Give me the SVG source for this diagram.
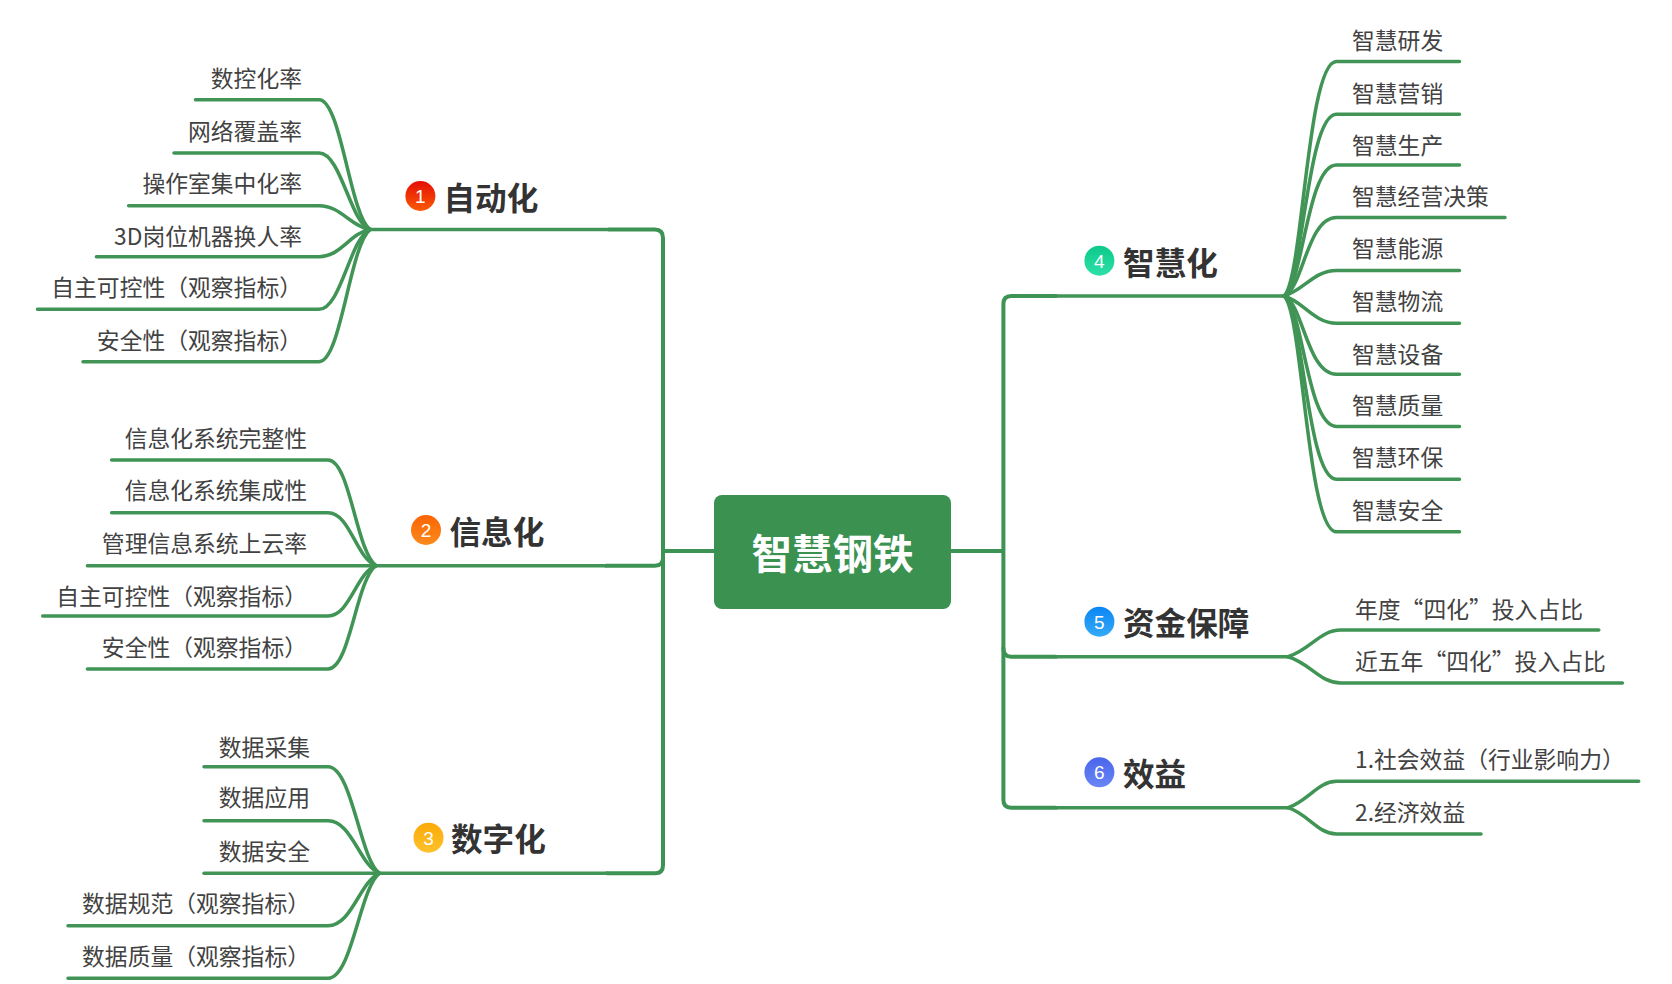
<svg xmlns="http://www.w3.org/2000/svg" width="1672" height="984" viewBox="0 0 1672 984">
<style>
text{font-family:"Noto Sans CJK SC","Noto Sans",sans-serif}
.l{font-size:22.8px;fill:#424242}
.e{text-anchor:end}
.b{font-size:31.6px;font-weight:700;fill:#333}
.n{font-size:19px;fill:#fff;text-anchor:middle;font-family:"Liberation Sans",sans-serif}
.c{fill:none;stroke:#409455;stroke-width:3.5;stroke-linecap:round}
.t{fill:none;stroke:#3d9353;stroke-width:4;stroke-linecap:round}
</style>
<defs>
<linearGradient id="g1" x1="0" y1="0" x2="0" y2="1"><stop offset="0" stop-color="#e40f05"/><stop offset="1" stop-color="#fb5a06"/></linearGradient>
<linearGradient id="g2" x1="0" y1="0" x2="0" y2="1"><stop offset="0" stop-color="#fb6404"/><stop offset="1" stop-color="#fc8a1c"/></linearGradient>
<linearGradient id="g3" x1="0" y1="0" x2="0" y2="1"><stop offset="0" stop-color="#fbaa06"/><stop offset="1" stop-color="#fdc22c"/></linearGradient>
<linearGradient id="g4" x1="0" y1="0" x2="0" y2="1"><stop offset="0" stop-color="#0cc98a"/><stop offset="1" stop-color="#2ee0a8"/></linearGradient>
<linearGradient id="g5" x1="0" y1="0" x2="0" y2="1"><stop offset="0" stop-color="#0a86f2"/><stop offset="1" stop-color="#35aaf8"/></linearGradient>
<linearGradient id="g6" x1="0" y1="0" x2="0" y2="1"><stop offset="0" stop-color="#4a66ea"/><stop offset="1" stop-color="#6a86f6"/></linearGradient>
</defs>
<rect width="1672" height="984" fill="#fff"/>
<g id="connectors">
<path class="t" d="M714,551H663M951,551H1003"/>
<path class="t" d="M609,229.5H655Q663,229.5 663,238V865Q663,873.3 655,873.3H607"/>
<path class="t" d="M606,565.7H655Q663,565.7 663,558"/>
<path class="t" d="M1056,296H1011Q1003.4,296 1003.4,304V800Q1003.4,807.7 1011,807.7H1056"/>
<path class="t" d="M1003.4,648Q1003.4,656.7 1011,656.7H1056"/>
<path class="c" d="M609,229.5H370"/>
<path class="c" d="M195.5,99.7H319C341,99.7 350,215 370,229.5"/>
<path class="c" d="M174,153H319C341,153 350,222 370,229.5"/>
<path class="c" d="M128.6,205.7H319C341,205.7 350,226 370,229.5"/>
<path class="c" d="M96.4,256.7H319C341,256.7 350,233 370,229.5"/>
<path class="c" d="M37.5,309.3H319C341,309.3 350,238 370,229.5"/>
<path class="c" d="M83,361.7H319C341,361.7 350,245 370,229.5"/>
<path class="c" d="M606,565.7H376"/>
<path class="c" d="M111.6,460H328C350,460 356,551 376,565.7"/>
<path class="c" d="M111.6,512.7H328C350,512.7 356,558 376,565.7"/>
<path class="c" d="M87.4,565.7H376"/>
<path class="c" d="M42.7,616H328C350,616 356,573 376,565.7"/>
<path class="c" d="M87.4,669H328C350,669 356,580 376,565.7"/>
<path class="c" d="M607,873.3H379.5"/>
<path class="c" d="M204,766.7H328C352,766.7 360,860 379.5,873.3"/>
<path class="c" d="M204,820.7H328C352,820.7 360,866 379.5,873.3"/>
<path class="c" d="M204,873.3H379.5"/>
<path class="c" d="M68,925.7H328C352,925.7 360,881 379.5,873.3"/>
<path class="c" d="M68,978.3H328C352,978.3 360,887 379.5,873.3"/>
<path class="c" d="M1056,296H1284"/>
<path class="c" d="M1459.5,61.4H1336.5C1307,61.4 1303,280 1284,296"/>
<path class="c" d="M1459.5,114.3H1336.5C1307,114.3 1303,283 1284,296"/>
<path class="c" d="M1459.5,165H1336.5C1307,165 1303,286 1284,296"/>
<path class="c" d="M1505,217.5H1336.5C1307,217.5 1303,289 1284,296"/>
<path class="c" d="M1459.5,270.4H1336.5C1314,270.4 1303,291 1284,296"/>
<path class="c" d="M1459.5,323.2H1336.5C1314,323.2 1303,301 1284,296"/>
<path class="c" d="M1459.5,374.3H1336.5C1307,374.3 1303,303 1284,296"/>
<path class="c" d="M1459.5,426.4H1336.5C1307,426.4 1303,306 1284,296"/>
<path class="c" d="M1459.5,479.3H1336.5C1307,479.3 1303,309 1284,296"/>
<path class="c" d="M1459.5,531.8H1336.5C1307,531.8 1303,312 1284,296"/>
<path class="c" d="M1056,656.7H1288"/>
<path class="c" d="M1598.8,630H1340.8C1320,630 1310,650 1288,656.7"/>
<path class="c" d="M1622.4,683H1340.8C1320,683 1310,663 1288,656.7"/>
<path class="c" d="M1056,807.7H1288"/>
<path class="c" d="M1638.7,781.3H1336.5C1318,781.3 1308,801 1288,807.7"/>
<path class="c" d="M1481,834H1336.5C1318,834 1308,814 1288,807.7"/>
</g>
<g id="root"><rect x="714" y="495" width="237" height="114" rx="8" fill="#3a9150"/><text x="832.5" y="568.5" font-size="40.5" font-weight="700" fill="#fff" text-anchor="middle">智慧钢铁</text></g>
<g id="n1"><circle cx="420.4" cy="196" r="15" fill="url(#g1)"/><text class="n" x="420.4" y="203">1</text><text class="b" x="443.5" y="210">自动化</text></g>
<g id="n2"><circle cx="426" cy="530" r="15" fill="url(#g2)"/><text class="n" x="426" y="537">2</text><text class="b" x="449.5" y="544">信息化</text></g>
<g id="n3"><circle cx="428.5" cy="837.7" r="15" fill="url(#g3)"/><text class="n" x="428.5" y="844.5">3</text><text class="b" x="451" y="851">数字化</text></g>
<g id="n4"><circle cx="1099.4" cy="260.7" r="15" fill="url(#g4)"/><text class="n" x="1099.4" y="267.5">4</text><text class="b" x="1123" y="275">智慧化</text></g>
<g id="n5"><circle cx="1099.4" cy="621.7" r="15" fill="url(#g5)"/><text class="n" x="1099.4" y="628.5">5</text><text class="b" x="1123" y="635">资金保障</text></g>
<g id="n6"><circle cx="1099.4" cy="772.3" r="15" fill="url(#g6)"/><text class="n" x="1099.4" y="779">6</text><text class="b" x="1123" y="786">效益</text></g>
<g id="n1-1"><text class="l e" x="302" y="87">数控化率</text></g>
<g id="n1-2"><text class="l e" x="302" y="140">网络覆盖率</text></g>
<g id="n1-3"><text class="l e" x="302" y="192">操作室集中化率</text></g>
<g id="n1-4"><text class="l e" x="302" y="245">3D岗位机器换人率</text></g>
<g id="n1-5"><text class="l e" x="302" y="295.5">自主可控性（观察指标）</text></g>
<g id="n1-6"><text class="l e" x="302" y="348.5">安全性（观察指标）</text></g>
<g id="n2-1"><text class="l e" x="307" y="446.5">信息化系统完整性</text></g>
<g id="n2-2"><text class="l e" x="307" y="499">信息化系统集成性</text></g>
<g id="n2-3"><text class="l e" x="307" y="551.5">管理信息系统上云率</text></g>
<g id="n2-4"><text class="l e" x="307" y="605">自主可控性（观察指标）</text></g>
<g id="n2-5"><text class="l e" x="307" y="656">安全性（观察指标）</text></g>
<g id="n3-1"><text class="l e" x="310" y="756">数据采集</text></g>
<g id="n3-2"><text class="l e" x="310" y="806">数据应用</text></g>
<g id="n3-3"><text class="l e" x="310" y="859.5">数据安全</text></g>
<g id="n3-4"><text class="l e" x="310" y="911.5">数据规范（观察指标）</text></g>
<g id="n3-5"><text class="l e" x="310" y="964.5">数据质量（观察指标）</text></g>
<g id="n4-1"><text class="l" x="1352" y="49">智慧研发</text></g>
<g id="n4-2"><text class="l" x="1352" y="101.5">智慧营销</text></g>
<g id="n4-3"><text class="l" x="1352" y="154">智慧生产</text></g>
<g id="n4-4"><text class="l" x="1352" y="205">智慧经营决策</text></g>
<g id="n4-5"><text class="l" x="1352" y="257">智慧能源</text></g>
<g id="n4-6"><text class="l" x="1352" y="310">智慧物流</text></g>
<g id="n4-7"><text class="l" x="1352" y="362.5">智慧设备</text></g>
<g id="n4-8"><text class="l" x="1352" y="413.5">智慧质量</text></g>
<g id="n4-9"><text class="l" x="1352" y="466">智慧环保</text></g>
<g id="n4-10"><text class="l" x="1352" y="519">智慧安全</text></g>
<g id="n5-1"><text class="l" x="1355" y="617.5">年度“四化”投入占比</text></g>
<g id="n5-2"><text class="l" x="1355" y="670">近五年“四化”投入占比</text></g>
<g id="n6-1"><text class="l" x="1355" y="768">1.社会效益（行业影响力）</text></g>
<g id="n6-2"><text class="l" x="1355" y="820.5">2.经济效益</text></g>
</svg>
